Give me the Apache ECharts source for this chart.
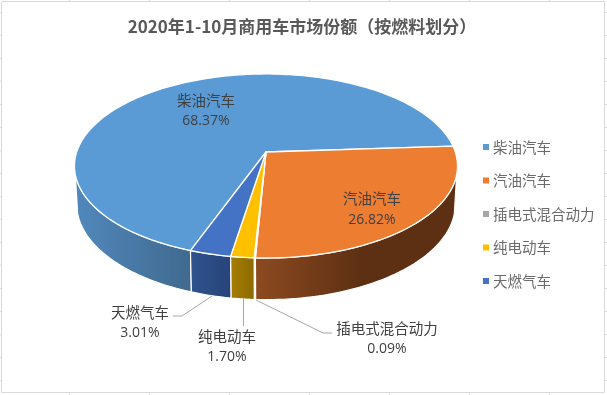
<!DOCTYPE html>
<html>
<head>
<meta charset="utf-8">
<style>html,body{margin:0;padding:0;background:#fff}#c{width:607px;height:395px}</style>
<script src="https://cdn.jsdelivr.net/npm/echarts@6/dist/echarts.min.js"></script>
</head>
<body>
<div id="c"></div>
<script>
const titleText = '2020年1-10月商用车市场份额（按燃料划分）';
const categories = ['柴油汽车', '汽油汽车', '插电式混合动力', '纯电动车', '天燃气车'];
const shares = [68.37, 26.82, 0.09, 1.70, 3.01];

const topColors = ['#5B9BD5', '#ED7D31', '#A5A5A5', '#FFC000', '#4472C4'];
const wallLeft = ['#5087BA', '#8C4A20', '#6E6E6E', '#A37C00', '#2F528C'];
const wallRight = ['#40698F', '#5E3013', '#5E5E5E', '#8F6C00', '#27437A'];
const wallStops = [[80, 192], [256, 360], [250, 252], [232, 252], [192, 232]];
const labelAnchors = [[206, 100], [372, 198.5], [387, 328], [227, 336], [140, 312]];
const leaders = [null, null,
  [[256, 300], [323, 333], [332, 333]],
  [[243.5, 299], [243.5, 326]],
  [[212, 296], [182, 316], [173, 316]]];

const FONT = '"Noto Sans CJK SC"';
const START = 110, CX = 266, K = 0.152;
const TOP = { y0: 152, r: 189.3, b: 89.9 }, BASE = { y0: 190, r: 187, b: 93 };
const total = shares.reduce((a, b) => a + b, 0);

function project(deg, d) {
  const t = deg * Math.PI / 180, X = Math.cos(t), Y = Math.sin(t), w = 1 - K * Y;
  return [CX + d.r * X / w, d.y0 + d.b * Y / w];
}
function arc(a, b, d) {
  const pts = [], n = Math.max(1, Math.ceil((b - a) / 1.5));
  for (let i = 0; i <= n; i++) pts.push(project(a + (b - a) * i / n, d));
  return pts;
}
function visible(a, b) {
  for (const k of [0, 360]) {
    const lo = Math.max(a, 14 + k), hi = Math.min(b, 166 + k);
    if (hi > lo) return [lo, hi];
  }
  return null;
}
function sliceRange(i) {
  let before = 0;
  for (let j = 0; j < i; j++) before += shares[j];
  return [START + before / total * 360, START + (before + shares[i]) / total * 360];
}
function renderSlice(params, api) {
  const i = params.seriesIndex, value = api.value(0);
  const [a, b] = sliceRange(i);
  const kids = [];
  const vis = visible(a, b);
  if (vis) {
    const pts = arc(vis[0], vis[1], TOP).concat(arc(vis[0], vis[1], BASE).reverse());
    kids.push({
      type: 'polygon', shape: { points: pts },
      style: {
        fill: new echarts.graphic.LinearGradient(wallStops[i][0], 0, wallStops[i][1], 0,
          [{ offset: 0, color: wallLeft[i] }, { offset: 1, color: wallRight[i] }], true),
        stroke: '#fff', lineWidth: 1.2
      }
    });
  }
  kids.push({
    type: 'polygon', shape: { points: [[CX, TOP.y0]].concat(arc(a, b, TOP)) },
    style: { fill: topColors[i], stroke: '#fff', lineWidth: 1.3, lineJoin: 'round' }
  });
  if (leaders[i]) {
    kids.push({ type: 'polyline', shape: { points: leaders[i] },
      style: { fill: null, stroke: '#A6A6A6', lineWidth: 1 } });
  }
  const [lx, ly] = labelAnchors[i];
  const color = '#404040';
  kids.push({ type: 'text', z2: 20, style: { text: categories[i], x: lx, y: ly, align: 'center', verticalAlign: 'middle',
    font: '14.5px ' + FONT, fill: color } });
  kids.push({ type: 'text', z2: 20, style: { text: value.toFixed(2) + '%', x: lx, y: ly + 21.5, align: 'center', verticalAlign: 'middle',
    font: '14px "Open Sans"', fill: color } });
  return { type: 'group', children: kids };
}

const frameLines = [];
const tickStyle = { stroke: '#D9D9D9', lineWidth: 1 };
for (let y = 12; y <= 380; y += 23) {
  frameLines.push({ type: 'line', silent: true, shape: { x1: 0, y1: y + .5, x2: 1, y2: y + .5 }, style: tickStyle });
  frameLines.push({ type: 'line', silent: true, shape: { x1: 605, y1: y + .5, x2: 607, y2: y + .5 }, style: tickStyle });
}
for (let x = 69.5; x < 600; x += 80) {
  frameLines.push({ type: 'line', silent: true, shape: { x1: x, y1: 0, x2: x, y2: 1 }, style: tickStyle });
  frameLines.push({ type: 'line', silent: true, shape: { x1: x, y1: 393, x2: x, y2: 395 }, style: tickStyle });
}
frameLines.push({ type: 'rect', silent: true, shape: { x: 1.5, y: 1.5, width: 603, height: 391 },
  style: { fill: '#fff', stroke: '#D9D9D9', lineWidth: 1 }, z: -1 });

const chart = echarts.init(document.getElementById('c'), null, { renderer: 'canvas' });
chart.setOption({
  animation: false,
  backgroundColor: '#fff',
  color: topColors,
  title: { text: titleText, left: 297, top: 13, textAlign: 'center',
    textStyle: { fontFamily: FONT, fontSize: 17, fontWeight: 'bold', color: '#595959' } },
  legend: { orient: 'vertical', left: 478, top: 132, icon: 'rect', itemWidth: 6, itemHeight: 6, itemGap: 13.5,
    selectedMode: false, data: categories,
    textStyle: { fontFamily: FONT, fontSize: 14.5, color: '#6a6a6a', lineHeight: 20, padding: [0, 0, 0, -1] } },
  graphic: frameLines,
  series: categories.map((name, i) => ({
    type: 'custom', name, coordinateSystem: 'none', renderItem: renderSlice,
    itemStyle: { color: topColors[i] }, data: [[shares[i]]], z: 2, silent: true
  }))
});
</script>
</body>
</html>
